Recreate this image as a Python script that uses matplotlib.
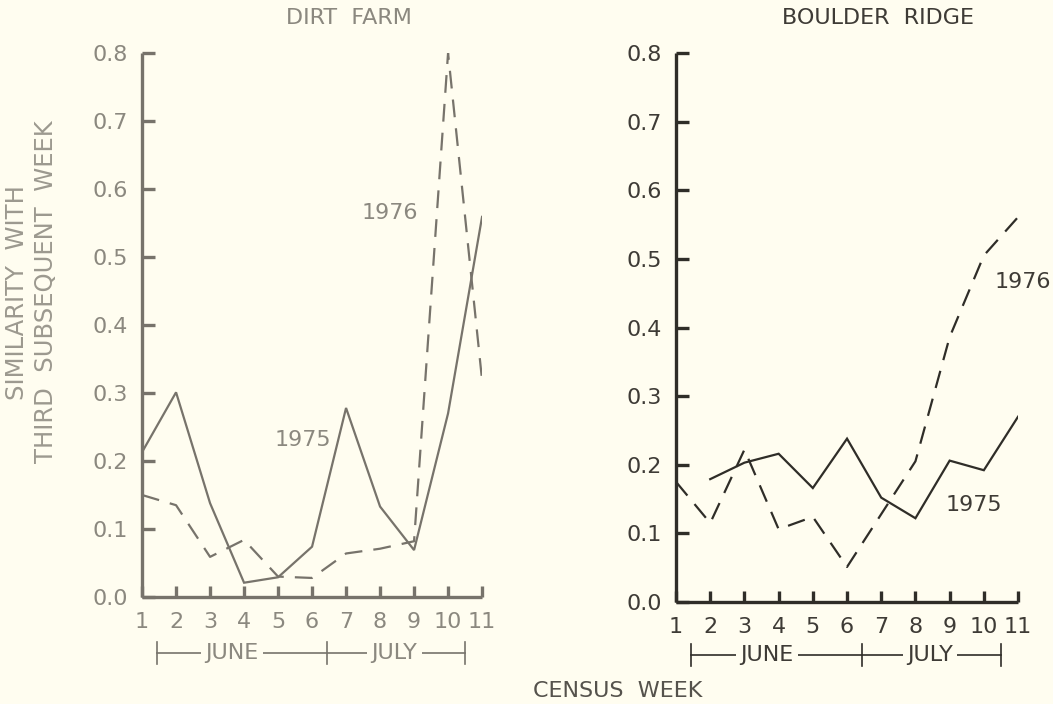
import matplotlib
matplotlib.use("Agg")
import matplotlib.pyplot as plt
import matplotlib.transforms as mtransforms

weeks = list(range(1, 12))
week_labels = ["1", "2", "3", "4", "5", "6", "7", "8", "9", "10", "11"]
y_ticks = [0.0, 0.1, 0.2, 0.3, 0.4, 0.5, 0.6, 0.7, 0.8]
y_tick_labels = ["0.0", "0.1", "0.2", "0.3", "0.4", "0.5", "0.6", "0.7", "0.8"]

dirt_1975 = [0.213, 0.301, 0.138, 0.021, 0.029, 0.074, 0.278, 0.133, 0.069, 0.270, 0.559]
dirt_1976 = [0.150, 0.135, 0.059, 0.084, 0.030, 0.028, 0.064, 0.071, 0.082, 0.800, 0.319]

boulder_weeks_1975 = list(range(2, 12))
boulder_1975 = [0.179, 0.203, 0.216, 0.166, 0.238, 0.152, 0.122, 0.206, 0.192, 0.270]
boulder_1976 = [0.175, 0.115, 0.222, 0.106, 0.124, 0.051, 0.128, 0.205, 0.386, 0.505, 0.561]

titles = ["DIRT  FARM", "BOULDER  RIDGE"]
months = ["JUNE", "JULY"]

BG = "#fffdf0"

fig = plt.figure(figsize=(10.53, 7.04), dpi=100, facecolor=BG)

ax1 = fig.add_axes([0.1349, 0.152, 0.3229, 0.7727])
ax2 = fig.add_axes([0.642, 0.145, 0.3248, 0.7795])

panels = [
    (ax1, "#77736b", "#8b887f", weeks, dirt_1975, weeks, dirt_1976,
     [(8.3, 0.565, "1976"), (5.74, 0.231, "1975")], -0.103, 0.331),
    (ax2, "#2f2d28", "#3e3b36", boulder_weeks_1975, boulder_1975, weeks, boulder_1976,
     [(11.15, 0.466, "1976"), (9.7, 0.141, "1975")], -0.0965, 0.834),
]

for i, (ax, lc, tc, x75, y75, x76, y76, labs, by, tx) in enumerate(panels):
    ax.set_facecolor(BG)
    ax.plot(x75, y75, color=lc, lw=1.6, solid_joinstyle="miter")
    ax.plot(x76, y76, color=lc, lw=1.6, dashes=(8, 5))
    ax.set_xlim(1, 11)
    ax.set_ylim(0, 0.8)
    for s in ["top", "right"]:
        ax.spines[s].set_visible(False)
    for s in ["left", "bottom"]:
        ax.spines[s].set_linewidth(2.4)
        ax.spines[s].set_color(lc)
        ax.spines[s].set_capstyle("butt")
    ax.set_xticks(weeks)
    ax.set_xticklabels(week_labels)
    ax.set_yticks(y_ticks)
    ax.set_yticklabels(y_tick_labels)
    ax.tick_params(axis="x", direction="in", length=8, width=2.4, color=lc,
                   labelsize=16, labelcolor=tc, pad=11)
    ax.tick_params(axis="y", direction="in", length=9, width=2.4, color=lc,
                   labelsize=16, labelcolor=tc, pad=10)
    for x, y, t in labs:
        ax.text(x, y, t, color=tc, fontsize=16, ha="center", va="center")
    fig.text(tx, 0.974, titles[i], fontsize=16, color=tc, ha="center", va="center")

    # month bracket
    trans = mtransforms.blended_transform_factory(ax.transData, ax.transAxes)
    x0, xm, x1 = 1.45, 6.45, 10.5
    ax.plot([x0, x1], [by, by], color=lc, lw=1.2, transform=trans, clip_on=False)
    for xx in (x0, xm, x1):
        ax.plot([xx, xx], [by - 0.02, by + 0.02], color=lc, lw=1.2,
                transform=trans, clip_on=False)
    ax.text((x0 + xm) / 2 - 0.3, by, months[0], transform=trans, ha="center", va="center",
            fontsize=16, color=tc, bbox=dict(facecolor=BG, edgecolor="none", pad=3))
    ax.text((xm + x1) / 2 - 0.05, by, months[1], transform=trans, ha="center", va="center",
            fontsize=16, color=tc, bbox=dict(facecolor=BG, edgecolor="none", pad=3))

fig.text(0.016, 0.585, "SIMILARITY  WITH", rotation=90, ha="center", va="center",
         fontsize=17.5, color="#9c998f")
fig.text(0.044, 0.585, "THIRD  SUBSEQUENT  WEEK", rotation=90, ha="center", va="center",
         fontsize=17.5, color="#9c998f")
fig.text(0.587, 0.018, "CENSUS  WEEK", ha="center", va="center", fontsize=16, color="#55524c")

fig.savefig("out.png", dpi=100, facecolor=BG)
